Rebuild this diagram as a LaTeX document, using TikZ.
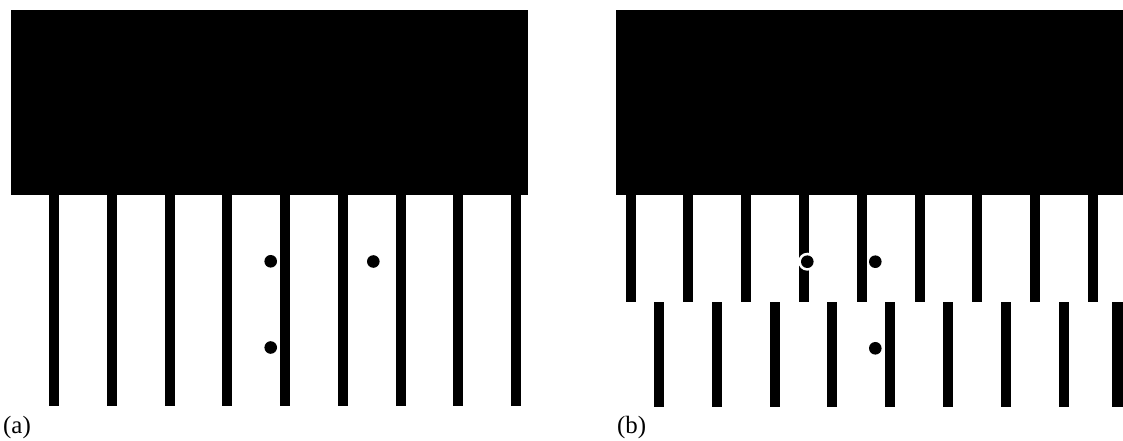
\documentclass[tikz,border=0pt]{standalone}
\usepackage{fontspec}
\setmainfont{Liberation Serif}
\begin{document}
\begin{tikzpicture}[x=1bp,y=-1bp,
  block/.style={fill=black},
  bar/.style={fill=black},
  dot/.style={fill=black},
  ring/.style={fill=white},
  caption/.style={font=\fontsize{25}{25}\selectfont, anchor=base west, inner sep=0pt}]
\path[use as bounding box] (0,0) rectangle (1123,441);

% ---- panel (a): comb with continuous teeth ----
\fill[block] (11,10) rectangle (528,195);
\foreach \i in {0,...,8}
  \fill[bar] ({54+57.75*\i-5},194) rectangle ++(10,212);
\fill[dot] (270.7,261.3) circle (6.3);
\fill[dot] (270.7,347.5) circle (6.3);
\fill[dot] (373.3,261.5) circle (6.3);

% ---- panel (b): upper teeth and staggered lower teeth ----
\fill[block] (616,10) rectangle (1123,195);
\foreach \i in {0,...,8}
  \fill[bar] ({630.5+57.8*\i-5},194) rectangle ++(10,108);
\foreach \x in {659,716.8,774.6,832.4,890.2,948,1005.8,1063.6}
  \fill[bar] ({\x-5},302.5) rectangle ++(10,105);
% last lower tooth, running into the right margin
\fill[bar] (1112,302.5) rectangle (1123,407.5);
\fill[ring] (807.3,261.7) circle (9);
\fill[dot] (807.3,261.7) circle (6.3);
\fill[dot] (875.3,261.7) circle (6.3);
\fill[dot] (875.3,348.3) circle (6.3);

\node[caption] (capa) at (3,434) {(a)};
\node[caption] (capb) at (617,434) {(b)};
\end{tikzpicture}
\end{document}
